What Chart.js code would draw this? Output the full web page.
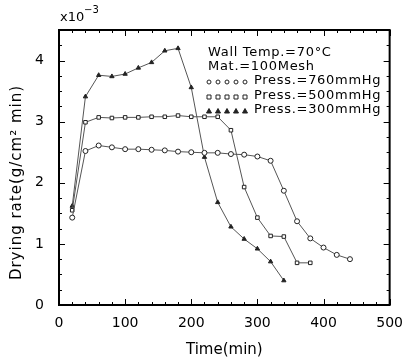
<!DOCTYPE html>
<html>
<head>
<meta charset="utf-8">
<script src="https://cdn.jsdelivr.net/npm/chart.js@4/dist/chart.umd.min.js"></script>
<style>
html,body{margin:0;padding:0;background:#fff;}
canvas{display:block;}
</style>
</head>
<body>
<canvas id="c" width="413" height="362"></canvas>
<script>
// Time (min)
const time760 = [20,40,60,80,100,120,140,160,180,200,220,240,260,280,300,320,340,360,380,400,420,440];
const rate760 = [1.43,2.52,2.61,2.58,2.55,2.55,2.54,2.53,2.51,2.50,2.49,2.49,2.47,2.46,2.43,2.36,1.87,1.37,1.09,0.94,0.82,0.75];
const time500 = [20,40,60,80,100,120,140,160,180,200,220,240,260,280,300,320,340,360,380];
const rate500 = [1.55,2.99,3.07,3.06,3.07,3.07,3.08,3.08,3.10,3.08,3.08,3.08,2.86,1.93,1.43,1.13,1.12,0.69,0.69];
const time300 = [20,40,60,80,100,120,140,160,180,200,220,240,260,280,300,320,340];
const rate300 = [1.62,3.41,3.76,3.74,3.78,3.88,3.97,4.16,4.20,3.56,2.42,1.68,1.28,1.08,0.92,0.71,0.40];
const xTicks = [0,100,200,300,400,500];
const yTicks = [0,1,2,3,4];
const seriesLabels = ['Press.=760mmHg','Press.=500mmHg','Press.=300mmHg'];
const noteLines = ['Wall Temp.=70°C','Mat.=100Mesh'];
const xTitle = 'Time(min)';
const yTitle = 'Drying rate(g/cm² min)';

const FONT = "'DejaVu Sans', sans-serif";
const ink = '#222';

function pts(xs, ys){ return xs.map((x,i)=>({x:x,y:ys[i]})); }

const styles = [
  {pointStyle:'circle', fill:'#fff'},
  {pointStyle:'rect', fill:'#fff'},
  {pointStyle:'triangle', fill:ink}
];

const framePlugin = {
  id:'frame',
  afterDraw(chart){
    const ctx = chart.ctx, a = chart.chartArea;
    const xs = chart.scales.x, ys = chart.scales.y;
    ctx.save();
    ctx.strokeStyle = '#000';
    ctx.lineWidth = 2;
    ctx.strokeRect(a.left, a.top, a.right - a.left, a.bottom - a.top);
    ctx.lineWidth = 1;
    ctx.beginPath();
    for (let v = 0; v <= 500; v += 20) {
      const p = Math.round(xs.getPixelForValue(v)) + 0.5;
      const L = (v % 100 === 0) ? 6 : 3;
      ctx.moveTo(p, a.bottom); ctx.lineTo(p, a.bottom - L);
      ctx.moveTo(p, a.top); ctx.lineTo(p, a.top + L);
    }
    for (let v = 0; v <= 4.5; v += 0.25) {
      const p = Math.round(ys.getPixelForValue(v)) + 0.5;
      const L = (Math.abs(v - Math.round(v)) < 1e-6) ? 6 : 3;
      ctx.moveTo(a.left, p); ctx.lineTo(a.left + L, p);
      ctx.moveTo(a.right, p); ctx.lineTo(a.right - L, p);
    }
    ctx.stroke();

    ctx.fillStyle = '#000';
    ctx.textBaseline = 'middle';
    ctx.textAlign = 'left';

    // y-axis title (rotated)
    ctx.save();
    ctx.translate(17, (a.top + a.bottom) / 2 + 15);
    ctx.rotate(-Math.PI / 2);
    ctx.textAlign = 'center';
    ctx.font = '15px ' + FONT;
    ctx.letterSpacing = '1px';
    ctx.fillText(yTitle, 0, 0);
    ctx.restore();

    // multiplier
    ctx.font = '13px ' + FONT;
    ctx.fillText('x10', 60, 18);
    ctx.font = '10px ' + FONT;
    ctx.fillText('−3', 84, 10);

    // notes + legend
    ctx.font = '13px ' + FONT;
    ctx.letterSpacing = '0.7px';
    ctx.fillText(noteLines[0], 208, 53);
    ctx.fillText(noteLines[1], 208, 67);
    const rowsY = [81, 96, 110];
    for (let r = 0; r < 3; r++) {
      ctx.fillText(seriesLabels[r], 254, rowsY[r]);
      for (let k = 0; k < 5; k++) {
        const cx = 209 + k * 9, cy = rowsY[r] + 1;
        ctx.lineWidth = 1;
        ctx.strokeStyle = ink;
        ctx.fillStyle = styles[r].fill;
        ctx.beginPath();
        if (r === 0) { ctx.arc(cx, cy, 2, 0, Math.PI * 2); }
        else if (r === 1) { ctx.rect(cx - 2, cy - 2, 4, 4); }
        else { ctx.moveTo(cx, cy - 2.5); ctx.lineTo(cx + 2.5, cy + 2); ctx.lineTo(cx - 2.5, cy + 2); ctx.closePath(); }
        ctx.fill(); ctx.stroke();
      }
      ctx.fillStyle = '#000';
    }
    ctx.restore();
  }
};

function ds(label, xs, ys, st){
  return {
    label: label,
    data: pts(xs, ys),
    borderColor: '#555',
    borderWidth: 1,
    pointStyle: st.pointStyle,
    pointRadius: 2.5,
    pointBorderWidth: 1,
    pointBorderColor: ink,
    pointBackgroundColor: st.fill,
    tension: 0,
    fill: false
  };
}

new Chart(document.getElementById('c'), {
  type: 'line',
  data: {
    datasets: [
      ds(seriesLabels[0], time760, rate760, styles[0]),
      ds(seriesLabels[1], time500, rate500, styles[1]),
      ds(seriesLabels[2], time300, rate300, styles[2])
    ]
  },
  options: {
    responsive: false,
    devicePixelRatio: 1,
    animation: false,
    layout: { padding: { top: 30, right: 15, left: 0, bottom: 0 } },
    plugins: { legend: { display: false }, tooltip: { enabled: false } },
    scales: {
      x: {
        type: 'linear', min: 0, max: 500,
        afterBuildTicks(s){ s.ticks = xTicks.map(v => ({value: v})); },
        afterFit(s){ s.height = 57; },
        grid: { display: false, drawTicks: false },
        border: { display: false },
        ticks: { color: '#000', font: { family: FONT, size: 14 }, padding: 10, maxRotation: 0 },
        title: { display: true, text: xTitle, color: '#000', font: { family: FONT, size: 15 }, padding: { top: 0, bottom: 3 } }
      },
      y: {
        type: 'linear', min: 0, max: 4.5,
        afterBuildTicks(s){ s.ticks = yTicks.map(v => ({value: v})); },
        afterFit(s){ s.width = 59; },
        grid: { display: false, drawTicks: false },
        border: { display: false },
        ticks: { color: '#000', font: { family: FONT, size: 14 }, padding: 15 },
        title: { display: false }
      }
    }
  },
  plugins: [framePlugin]
});
</script>
</body>
</html>
